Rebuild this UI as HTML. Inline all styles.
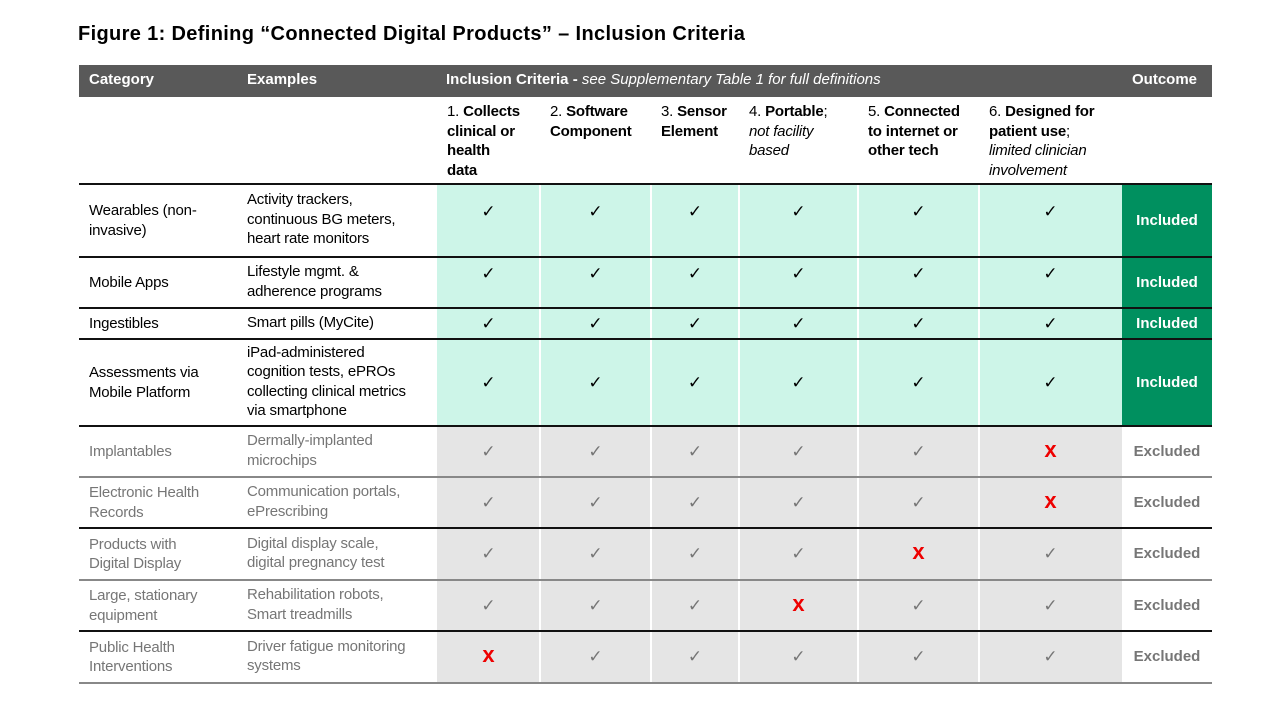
<!DOCTYPE html>
<html><head><meta charset="utf-8">
<style>
body{margin:0;width:1280px;height:720px;background:#fff;font-family:"Liberation Sans",sans-serif;position:relative;overflow:hidden}
.a{position:absolute;box-sizing:border-box}
.t{font-size:15px;line-height:19.5px;color:#000;letter-spacing:-0.2px}
.hd{font-size:15px;font-weight:bold;color:#fff}
.mk{font-size:17px;text-align:center;line-height:20px}
</style></head><body>
<div class="a" style="left:78px;top:23px;font-size:20px;font-weight:bold;letter-spacing:0.35px">Figure 1: Defining “Connected Digital Products” – Inclusion Criteria</div>
<div class="a" style="left:79px;top:65px;width:1133px;height:32px;background:#595959"></div>
<div class="a hd" style="left:89px;top:71px">Category</div>
<div class="a hd" style="left:247px;top:71px">Examples</div>
<div class="a hd" style="left:446px;top:71px">Inclusion Criteria - <i style="font-weight:normal">see Supplementary Table 1 for full definitions</i></div>
<div class="a hd" style="left:1132px;top:71px">Outcome</div>
<div id="tbl"></div>
<script>
const cols=[79,237,437,540,651,739,858,979,1122,1212];
const rowEdges=[184,257,308,339,426,477,528,580,631,683];
const lineDark=[true,true,true,true,true,false,true,false,true,false];
const categories=["Wearables (non-<br>invasive)","Mobile Apps","Ingestibles","Assessments via<br>Mobile Platform","Implantables","Electronic Health<br>Records","Products with<br>Digital Display","Large, stationary<br>equipment","Public Health<br>Interventions"];
const examples=["Activity trackers,<br>continuous BG meters,<br>heart rate monitors","Lifestyle mgmt. &amp;<br>adherence programs","Smart pills (MyCite)","iPad-administered<br>cognition tests, ePROs<br>collecting clinical metrics<br>via smartphone","Dermally-implanted<br>microchips","Communication portals,<br>ePrescribing","Digital display scale,<br>digital pregnancy test","Rehabilitation robots,<br>Smart treadmills","Driver fatigue monitoring<br>systems"];
const failedCriterion=[-1,-1,-1,-1,5,5,4,3,0];
const criteriaHeads=["1. <b>Collects<br>clinical or<br>health<br>data</b>","2. <b>Software<br>Component</b>","3. <b>Sensor<br>Element</b>","4. <b>Portable</b>;<br><i>not facility<br>based</i>","5. <b>Connected<br>to internet or<br>other tech</b>","6. <b>Designed for<br>patient use</b>;<br><i>limited clinician<br>involvement</i>"];
const T=document.getElementById('tbl');
function mk(style,html,cls){const d=document.createElement('div');d.className='a '+(cls||'');d.style.cssText=style;if(html)d.innerHTML=html;T.appendChild(d);return d;}
criteriaHeads.forEach((h,i)=>{
 const d=mk(`left:${cols[i+2]+10}px;top:102px;`,h,'t');
 
 
});
categories.forEach((c,r)=>{
 const y0=rowEdges[r],y1=rowEdges[r+1],h=y1-y0;
 const inc=failedCriterion[r]<0;
 const bg=inc?'#cdf5e8':'#e5e5e5';
 const col=inc?'#000':'#767676';
 const bgd=mk(`left:${cols[2]}px;top:${y0}px;width:${cols[8]-cols[2]}px;height:${h}px;background:${bg}`);
 
 
 const nLines=(c.match(/<br>/g)||[]).length+1, eLines=(examples[r].match(/<br>/g)||[]).length+1;
 const cd=mk(`left:89px;top:${y0+h/2-nLines*9.75}px;color:${col}`,c,'t');
 
 
 const ed=mk(`left:247px;top:${y0+h/2-eLines*9.75-1}px;color:${col}`,examples[r],'t');
 
 
 const off=(h>60&&h<80)?-19:(h>45&&h<55&&inc)?-19:-10;
 for(let k=0;k<6;k++){
  const x0=cols[k+2],x1=cols[k+3];
  const fail=failedCriterion[r]===k;
  const m=mk(`left:${x0}px;width:${x1-x0}px;top:${y0+h/2+(fail?-12:off)}px;color:${fail?'#e00':col};${fail?'font-weight:bold;font-size:22px;':''}`,fail?'x':'✓','mk');
  
  
  if(k>0){const s=mk(`left:${x0-1}px;top:${y0}px;width:2px;height:${h}px;background:#fff`);
   
   }
 }
 const o=mk(`left:${cols[8]}px;top:${y0}px;width:${cols[9]-cols[8]}px;height:${h}px;background:${inc?'#00905f':'#fff'};color:${inc?'#fff':'#767676'};font-weight:bold;font-size:15px;text-align:center;line-height:${h}px`,inc?'Included':'Excluded');
 
 
});
rowEdges.forEach((y,i)=>{
 const l=mk(`left:79px;top:${y-1}px;width:1133px;height:${i===0?2:1.5}px;background:${lineDark[i]?'#111':'#888'}`);
 
 
});
</script>
</body></html>
